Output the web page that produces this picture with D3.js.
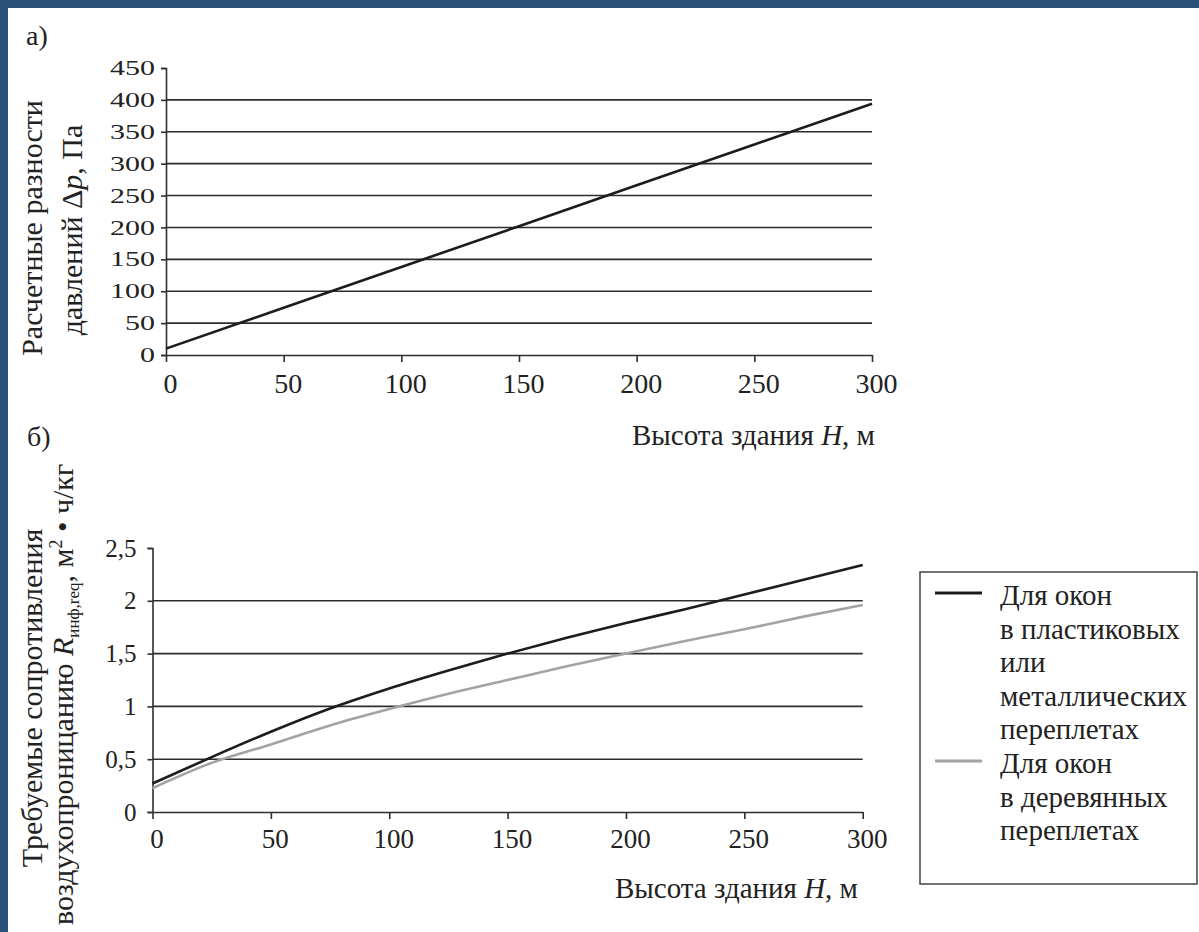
<!DOCTYPE html>
<html>
<head>
<meta charset="utf-8">
<script src="https://cdn.jsdelivr.net/npm/d3@7"></script>
<style>
  body { margin: 0; background: #2b5078; }
  text { font-family: "Liberation Serif", Tinos, "Times New Roman", "DejaVu Serif", serif; fill: #222; }
</style>
</head>
<body>
<div class="chart"></div>
<script>
// panel а): pressure difference vs building height
const heightsA = [0, 50, 100, 150, 200, 250, 300];
const pressureA = [10, 74, 138, 202, 266, 330, 394];
const yTicksA = [0, 50, 100, 150, 200, 250, 300, 350, 400, 450];

// panel б): required air permeation resistance
const heightsB = [0, 25, 50, 75, 100, 125, 150, 175, 200, 225, 250, 275, 300];
const plasticB = [0.27, 0.52, 0.76, 0.98, 1.17, 1.34, 1.5, 1.65, 1.79, 1.92, 2.06, 2.2, 2.34];
const woodB = [0.225, 0.465, 0.64, 0.82, 0.975, 1.12, 1.25, 1.38, 1.5, 1.62, 1.73, 1.85, 1.96];
const yTicksB = [0, 0.5, 1, 1.5, 2, 2.5];

const xTicks = [0, 50, 100, 150, 200, 250, 300];

const legendNames = [
  ["Для окон", "в пластиковых", "или", "металлических", "переплетах"],
  ["Для окон", "в деревянных", "переплетах"],
];
const seriesColors = ["#1c1c1c", "#a3a3a3"];

const width = 1199,
  height = 932,
  gridColor = "#2e2e2e";

// font sizes only; the family comes from the css rule above
const fontSize = (el, px) => el.attr("font-family", null).style("font-size", px + "px");

const svg = d3
  .select(".chart")
  .append("svg")
  .attr("width", width)
  .attr("height", height)
  .style("display", "block");

svg.append("rect").attr("width", width).attr("height", height).attr("fill", "#2b5078");
svg
  .append("rect")
  .attr("x", 8)
  .attr("y", 8)
  .attr("width", width - 8)
  .attr("height", height - 8)
  .attr("fill", "white");

// ---------- panel а) ----------
const xA = d3.scaleLinear().domain([0, 300]).range([166, 872]);
const yA = d3.scaleLinear().domain([0, 450]).range([355, 68]);

fontSize(svg.append("text").attr("x", 26).attr("y", 45).text("а)"), 28);

svg
  .append("g")
  .selectAll("line")
  .data(yTicksA.filter((d) => d > 0 && d < 450))
  .enter()
  .append("line")
  .attr("x1", xA(0))
  .attr("x2", xA(300))
  .attr("y1", (d) => yA(d))
  .attr("y2", (d) => yA(d))
  .attr("stroke", gridColor)
  .attr("stroke-width", 1.6);

const yAxisA = svg
  .append("g")
  .attr("transform", `translate(${xA(0)}, 0)`)
  .call(d3.axisLeft(yA).tickValues(yTicksA).tickSize(5).tickPadding(6).tickFormat(d3.format("d")))
  .attr("color", gridColor)
  .attr("font-family", null)
  .attr("font-size", null);
yAxisA.selectAll("path, line").attr("stroke-width", 1.6);
fontSize(yAxisA.selectAll("text"), 30).style("fill", "#222").attr("transform", "scale(1, 0.69)");

const xAxisA = svg
  .append("g")
  .attr("transform", `translate(0, ${yA(0)})`)
  .call(d3.axisBottom(xA).tickValues(xTicks).tickSize(7).tickPadding(11).tickSizeOuter(0))
  .attr("color", gridColor)
  .attr("font-family", null)
  .attr("font-size", null);
xAxisA.selectAll("path, line").attr("stroke-width", 1.6);
fontSize(xAxisA.selectAll("text"), 28).style("fill", "#222").attr("x", 4);

const pressureLine = d3
  .line()
  .x((d, i) => xA(heightsA[i]))
  .y((d) => yA(d));

svg
  .append("path")
  .attr("d", pressureLine(pressureA))
  .attr("fill", "none")
  .attr("stroke", seriesColors[0])
  .attr("stroke-width", 2.6);

fontSize(
  svg
    .append("text")
    .attr("transform", "translate(42, 228) rotate(-90)")
    .attr("text-anchor", "middle")
    .text("Расчетные разности"),
  30
);

const titleA2 = svg
  .append("text")
  .attr("transform", "translate(82, 230) rotate(-90)")
  .attr("text-anchor", "middle");
fontSize(titleA2, 30);
titleA2.append("tspan").text("давлений Δ");
titleA2.append("tspan").style("font-style", "italic").text("p");
titleA2.append("tspan").text(", Па");

const xTitleA = svg.append("text").attr("x", 632).attr("y", 445);
fontSize(xTitleA, 29);
xTitleA.append("tspan").text("Высота здания ");
xTitleA.append("tspan").style("font-style", "italic").text("H");
xTitleA.append("tspan").text(", м");

// ---------- panel б) ----------
const xB = d3.scaleLinear().domain([0, 300]).range([152.5, 862.7]);
const yB = d3.scaleLinear().domain([0, 2.5]).range([812, 548]);

fontSize(svg.append("text").attr("x", 27).attr("y", 446).text("б)"), 28);

svg
  .append("g")
  .selectAll("line")
  .data(yTicksB.filter((d) => d > 0 && d < 2.5))
  .enter()
  .append("line")
  .attr("x1", xB(0))
  .attr("x2", xB(300))
  .attr("y1", (d) => yB(d))
  .attr("y2", (d) => yB(d))
  .attr("stroke", gridColor)
  .attr("stroke-width", 1.6);

const yAxisB = svg
  .append("g")
  .attr("transform", `translate(${xB(0)}, 0)`)
  .call(
    d3
      .axisLeft(yB)
      .tickValues(yTicksB)
      .tickSize(5)
      .tickPadding(11)
      .tickFormat((d) => String(d).replace(".", ","))
  )
  .attr("color", gridColor)
  .attr("font-family", null)
  .attr("font-size", null);
yAxisB.selectAll("path, line").attr("stroke-width", 1.6);
fontSize(yAxisB.selectAll("text"), 25).style("fill", "#222");

const xAxisB = svg
  .append("g")
  .attr("transform", `translate(0, ${yB(0)})`)
  .call(d3.axisBottom(xB).tickValues(xTicks).tickSize(7).tickPadding(10).tickSizeOuter(0))
  .attr("color", gridColor)
  .attr("font-family", null)
  .attr("font-size", null);
xAxisB.selectAll("path, line").attr("stroke-width", 1.6);
fontSize(xAxisB.selectAll("text"), 27).style("fill", "#222").attr("x", 4);

const resistanceLine = d3
  .line()
  .x((d, i) => xB(heightsB[i]))
  .y((d) => yB(d))
  .curve(d3.curveMonotoneX);

[woodB, plasticB].forEach((values, k) => {
  svg
    .append("path")
    .attr("d", resistanceLine(values))
    .attr("fill", "none")
    .attr("stroke", seriesColors[1 - k])
    .attr("stroke-width", 2.6);
});

fontSize(
  svg
    .append("text")
    .attr("transform", "translate(42, 698) rotate(-90)")
    .attr("text-anchor", "middle")
    .text("Требуемые сопротивления"),
  30
);

const titleB2 = svg
  .append("text")
  .attr("transform", "translate(73, 925) rotate(-90)")
  .attr("text-anchor", "start");
fontSize(titleB2, 30);
titleB2.append("tspan").text("воздухопроницанию ");
titleB2.append("tspan").style("font-style", "italic").text("R");
titleB2.append("tspan").attr("dy", 6).style("font-size", "17px").text("инф,req");
titleB2.append("tspan").attr("dy", -6).text(", м");
titleB2.append("tspan").attr("dy", -11).style("font-size", "18px").text("2");
titleB2.append("tspan").attr("dy", 11).text(" • ч/кг");

const xTitleB = svg.append("text").attr("x", 615).attr("y", 898);
fontSize(xTitleB, 29);
xTitleB.append("tspan").text("Высота здания ");
xTitleB.append("tspan").style("font-style", "italic").text("H");
xTitleB.append("tspan").text(", м");

// ---------- legend ----------
const legend = svg.append("g");

legend
  .append("rect")
  .attr("x", 920)
  .attr("y", 572)
  .attr("width", 277)
  .attr("height", 312)
  .attr("fill", "none")
  .attr("stroke", "#444")
  .attr("stroke-width", 1.5);

let row = 0;
legendNames.forEach((lines, k) => {
  const baseline = 605 + row * 33.6;
  legend
    .append("line")
    .attr("x1", 935)
    .attr("x2", 982)
    .attr("y1", baseline - 12)
    .attr("y2", baseline - 12)
    .attr("stroke", seriesColors[k])
    .attr("stroke-width", 3);
  lines.forEach((txt) => {
    fontSize(legend.append("text").attr("x", 1000).attr("y", 605 + row * 33.6).text(txt), 29);
    row += 1;
  });
});
</script>
</body>
</html>
